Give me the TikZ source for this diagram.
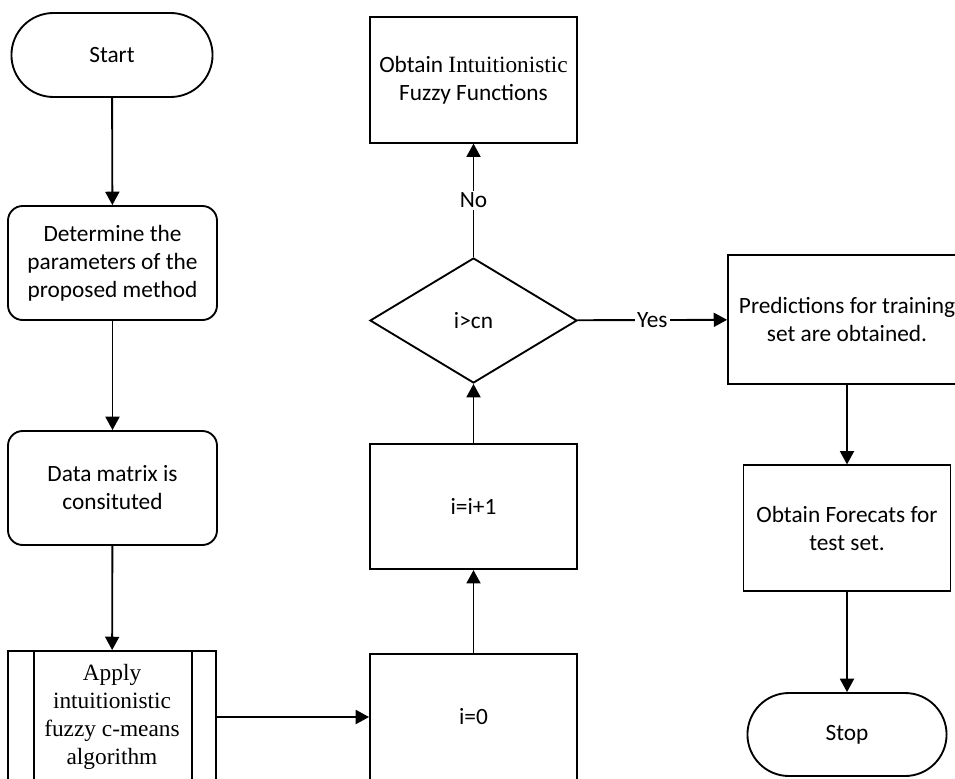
\documentclass[tikz,border=0pt]{standalone}
\usepackage{fontspec}
\setmainfont{Carlito}
\newfontfamily\serifpart{Liberation Serif}
\usetikzlibrary{shapes.misc,shapes.geometric,arrows.meta}

\begin{document}
\begin{tikzpicture}[x=0.75pt,y=0.75pt,yscale=-1,xscale=1,
  every node/.style={font=\fontsize{17.5}{21}\selectfont, align=center, line width=1.4pt},
  terminal/.style={draw, rounded rectangle, minimum width=157.5pt, minimum height=63pt},
  stepbox/.style={draw, rounded corners=11pt, minimum width=156.75pt, minimum height=85.5pt},
  plainbox/.style={draw, minimum width=155.25pt, minimum height=94pt},
  decision/.style={draw, diamond, minimum width=155.25pt, minimum height=93.75pt},
  lbl/.style={fill=white, inner sep=1.5pt},
  flow/.style={line width=1.4pt, -{Triangle[length=10pt,width=10.5pt]}}]
%set diagram size 955 x 778
\clip (0,0) rectangle (955,778);

% left column
\node [terminal] (start) at (112,55) {Start};
\node [stepbox] (param) at (112.5,263) {Determine the\\parameters of the\\proposed method};
\node [stepbox] (data) at (112.5,488) {Data matrix is\\consituted};
\node [draw, minimum width=156pt, minimum height=99pt] (apply) at (112,717) {\serifpart Apply\\\serifpart intuitionistic\\\serifpart fuzzy c-means\\\serifpart algorithm};
\draw [line width=1.4pt] ([xshift=20pt]apply.north west) -- ([xshift=20pt]apply.south west);
\draw [line width=1.4pt] ([xshift=-19pt]apply.north east) -- ([xshift=-19pt]apply.south east);

% middle column
\node [plainbox] (izero) at (473.5,717) {i=0};
\node [plainbox] (inc) at (473.5,506.5) {i=i+1};
\node [decision] (check) at (473.5,320.5) {i>cn};
\node [plainbox] (obtain) at (473.5,80) {Obtain {\serifpart Intuitionistic}\\Fuzzy Functions};

% right column
\node [draw, minimum width=178.5pt, minimum height=96.75pt] (pred) at (847,319.5) {Predictions for training\\set are obtained.};
\node [plainbox] (forecast) at (847,528) {Obtain Forecats for\\test set.};
\node [terminal, minimum width=156pt, minimum height=62.25pt] (stop) at (847,734.5) {Stop};

\draw [flow] (start) -- (param);
\draw [flow] (param) -- (data);
\draw [flow] (data) -- (apply);
\draw [flow] (apply) -- (izero);
\draw [flow] (izero) -- (inc);
\draw [flow] (inc) -- (check);
\draw [flow] (check) -- node [lbl] {No} (obtain);
\draw [flow] (check) -- node [lbl] {Yes} (pred);
\draw [flow] (pred) -- (forecast);
\draw [flow] (forecast) -- (stop);

\end{tikzpicture}
\end{document}
